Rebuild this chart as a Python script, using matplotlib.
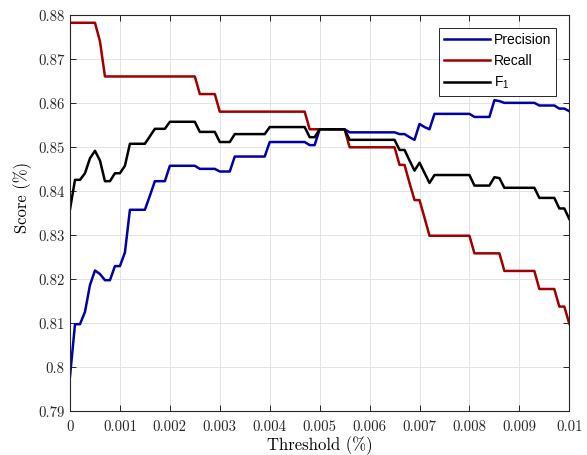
import numpy as np
import matplotlib
matplotlib.use("Agg")
import matplotlib.pyplot as plt

plt.rcParams["mathtext.fontset"] = "custom"
plt.rcParams["mathtext.rm"] = "Liberation Sans"
plt.rcParams["mathtext.it"] = "Liberation Sans:italic"
plt.rcParams["mathtext.bf"] = "Liberation Sans:bold"

threshold = np.linspace(0, 0.01, 101)

precision = [
    0.7979, 0.8098, 0.8098, 0.8126, 0.8187, 0.8220, 0.8212, 0.8198, 0.8198, 0.8230,
    0.8230, 0.8261, 0.8358, 0.8358, 0.8358, 0.8358, 0.8390, 0.8423, 0.8423, 0.8423,
    0.8458, 0.8458, 0.8458, 0.8458, 0.8458, 0.8458, 0.8451, 0.8451, 0.8451, 0.8451,
    0.8445, 0.8445, 0.8445, 0.8479, 0.8479, 0.8479, 0.8479, 0.8479, 0.8479, 0.8479,
    0.8512, 0.8512, 0.8512, 0.8512, 0.8512, 0.8512, 0.8512, 0.8512, 0.8505, 0.8505,
    0.8541, 0.8541, 0.8541, 0.8541, 0.8541, 0.8541, 0.8534, 0.8534, 0.8534, 0.8534,
    0.8534, 0.8534, 0.8534, 0.8534, 0.8534, 0.8534, 0.8530, 0.8530, 0.8523, 0.8517,
    0.8553, 0.8546, 0.8541, 0.8576, 0.8576, 0.8576, 0.8576, 0.8576, 0.8576, 0.8576,
    0.8576, 0.8569, 0.8569, 0.8569, 0.8569, 0.8607, 0.8605, 0.8601, 0.8601, 0.8601,
    0.8601, 0.8601, 0.8601, 0.8601, 0.8595, 0.8595, 0.8595, 0.8595, 0.8588, 0.8588,
    0.8582,
]

recall = [
    0.8783, 0.8783, 0.8783, 0.8783, 0.8783, 0.8783, 0.8741, 0.8661, 0.8661, 0.8661,
    0.8661, 0.8661, 0.8661, 0.8661, 0.8661, 0.8661, 0.8661, 0.8661, 0.8661, 0.8661,
    0.8661, 0.8661, 0.8661, 0.8661, 0.8661, 0.8661, 0.8621, 0.8621, 0.8621, 0.8621,
    0.8581, 0.8581, 0.8581, 0.8581, 0.8581, 0.8581, 0.8581, 0.8581, 0.8581, 0.8581,
    0.8581, 0.8581, 0.8581, 0.8581, 0.8581, 0.8581, 0.8581, 0.8581, 0.8541, 0.8541,
    0.8541, 0.8541, 0.8541, 0.8541, 0.8541, 0.8541, 0.8500, 0.8500, 0.8500, 0.8500,
    0.8500, 0.8500, 0.8500, 0.8500, 0.8500, 0.8500, 0.8460, 0.8460, 0.8419, 0.8380,
    0.8380, 0.8340, 0.8299, 0.8299, 0.8299, 0.8299, 0.8299, 0.8299, 0.8299, 0.8299,
    0.8299, 0.8259, 0.8259, 0.8259, 0.8259, 0.8259, 0.8259, 0.8219, 0.8219, 0.8219,
    0.8219, 0.8219, 0.8219, 0.8219, 0.8178, 0.8178, 0.8178, 0.8178, 0.8138, 0.8138,
    0.8099,
]

f1 = [
    0.8359, 0.8426, 0.8426, 0.8441, 0.8475, 0.8492, 0.8470, 0.8423, 0.8423, 0.8441,
    0.8441, 0.8458, 0.8508, 0.8508, 0.8508, 0.8508, 0.8525, 0.8542, 0.8542, 0.8542,
    0.8558, 0.8558, 0.8558, 0.8558, 0.8558, 0.8558, 0.8535, 0.8535, 0.8535, 0.8535,
    0.8512, 0.8512, 0.8512, 0.8530, 0.8530, 0.8530, 0.8530, 0.8530, 0.8530, 0.8530,
    0.8546, 0.8546, 0.8546, 0.8546, 0.8546, 0.8546, 0.8546, 0.8546, 0.8523, 0.8523,
    0.8541, 0.8541, 0.8541, 0.8541, 0.8541, 0.8541, 0.8517, 0.8517, 0.8517, 0.8517,
    0.8517, 0.8517, 0.8517, 0.8517, 0.8517, 0.8517, 0.8494, 0.8494, 0.8470, 0.8447,
    0.8465, 0.8442, 0.8419, 0.8437, 0.8437, 0.8437, 0.8437, 0.8437, 0.8437, 0.8437,
    0.8437, 0.8413, 0.8413, 0.8413, 0.8413, 0.8432, 0.8430, 0.8408, 0.8408, 0.8408,
    0.8408, 0.8408, 0.8408, 0.8408, 0.8385, 0.8385, 0.8385, 0.8385, 0.8361, 0.8361,
    0.8337,
]

x_ticks = [0, 0.001, 0.002, 0.003, 0.004, 0.005, 0.006, 0.007, 0.008, 0.009, 0.01]
x_tick_labels = ["0", "0.001", "0.002", "0.003", "0.004", "0.005", "0.006", "0.007", "0.008", "0.009", "0.01"]
y_ticks = [0.79, 0.80, 0.81, 0.82, 0.83, 0.84, 0.85, 0.86, 0.87, 0.88]
y_tick_labels = ["0.79", "0.8", "0.81", "0.82", "0.83", "0.84", "0.85", "0.86", "0.87", "0.88"]

serif = "cmr10"

fig = plt.figure(figsize=(5.87, 4.55), dpi=100)
ax = fig.add_axes([70 / 587, 1 - 411.3 / 455, 499.3 / 587, (411.3 - 15.3) / 455])

ax.plot(threshold, precision, color="#0000a8", lw=1.8, label="Precision")
ax.plot(threshold, recall, color="#a00000", lw=1.8, label="Recall")
ax.plot(threshold, f1, color="#000000", lw=1.8, label="F$_1$")

ax.set_xlim(0, 0.01)
ax.set_ylim(0.79, 0.88)
ax.set_xticks(x_ticks)
ax.set_xticklabels(x_tick_labels, fontfamily=serif, fontsize=10.7)
ax.set_yticks(y_ticks)
ax.set_yticklabels(y_tick_labels, fontfamily=serif, fontsize=10.7)
ax.tick_params(direction="in", top=True, right=True, length=4.5, width=0.7, colors="#262626")
ax.tick_params(axis="x", pad=6.5)
ax.tick_params(axis="y", pad=4)
ax.grid(True, color="#e3e3e3", lw=0.7)
ax.set_axisbelow(True)
for s in ax.spines.values():
    s.set_color("#262626")
    s.set_linewidth(0.8)

ax.set_xlabel("Threshold (%)", fontfamily=serif, fontsize=12, labelpad=1.5)
ax.set_ylabel("Score (%)", fontfamily=serif, fontsize=12)
ax.yaxis.set_label_coords(-0.077, 0.54)

leg = ax.legend(loc="upper right", bbox_to_anchor=(556 / 587, 1 - 28.3 / 455), bbox_transform=fig.transFigure,
                prop={"family": "Liberation Sans", "size": 10}, fancybox=False, framealpha=1,
                edgecolor="#262626", handlelength=3.3, handletextpad=0.3, borderpad=0.35,
                borderaxespad=0, labelspacing=0.5)
leg.get_frame().set_linewidth(0.7)

fig.savefig("out.png", dpi=100)
